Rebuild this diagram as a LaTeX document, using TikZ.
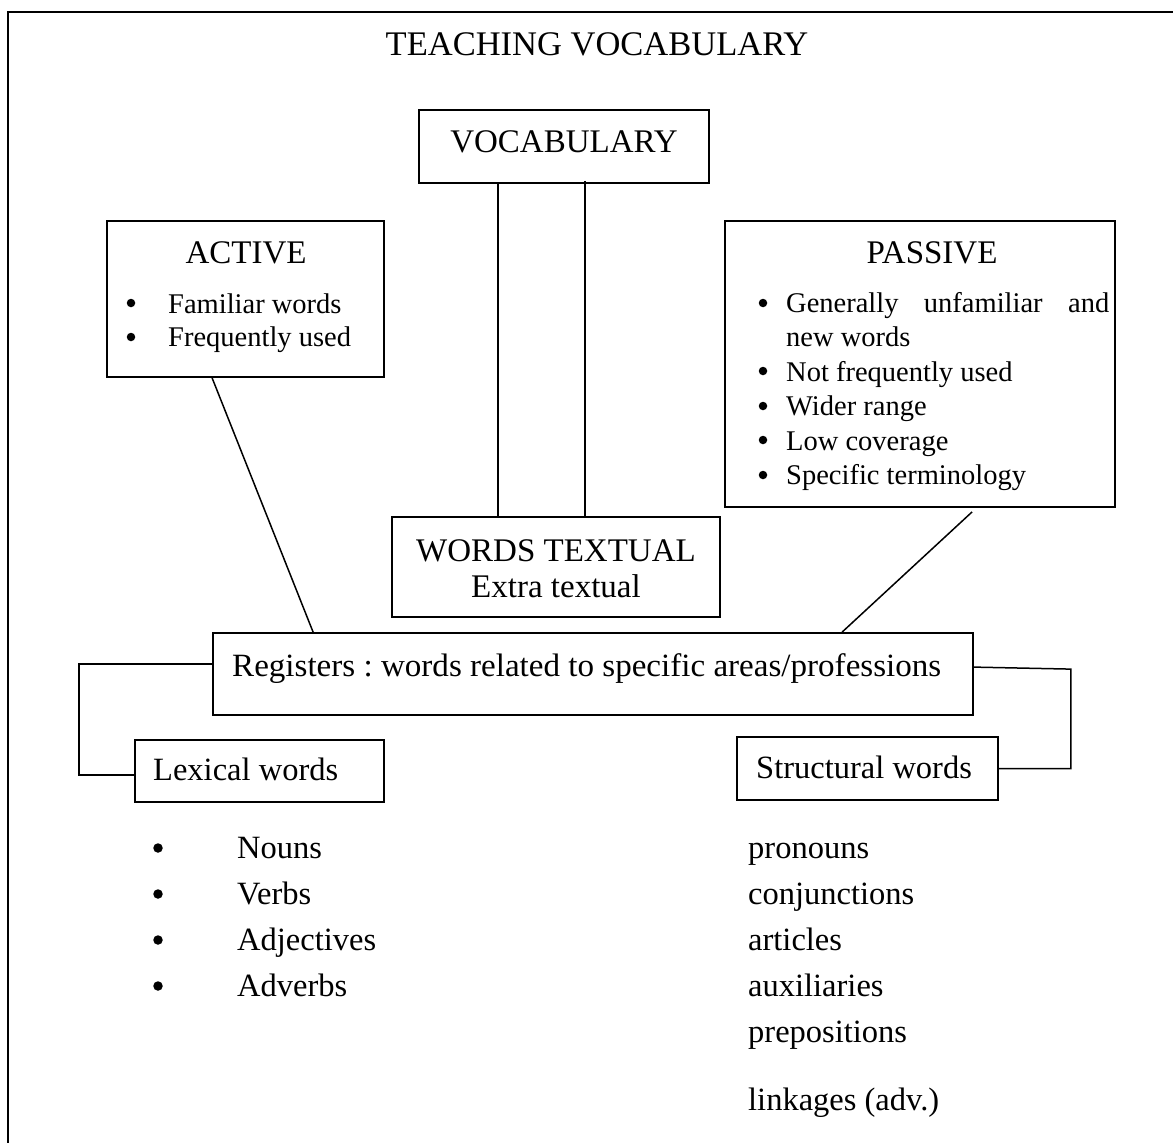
\documentclass[tikz,border=0pt]{standalone}
\usepackage{fontspec}
\setmainfont{Liberation Serif}
\usetikzlibrary{calc}
\tikzset{
  box/.style={draw, line width=1.8pt, rectangle, inner sep=0pt},
  conn/.style={draw, line width=1.5pt},
  head/.style={inner sep=0pt, font=\fontsize{33}{40}\selectfont},
  itemtxt/.style={inner sep=0pt, anchor=base west, font=\fontsize{28.5}{34}\selectfont},
  listtxt/.style={inner sep=0pt, anchor=base west, font=\fontsize{32.5}{38}\selectfont},
  bul/.style={circle, fill=black, inner sep=0pt, minimum size=#1},
  bul/.default=8.5pt
}
\begin{document}
\frenchspacing
\begin{tikzpicture}[x=1pt,y=-1pt]
\useasboundingbox (0,0) rectangle (1173,1143);
% outer frame (left and top sides)
\draw[line width=2.2pt] (8,1150) -- (8,12) -- (1180,12);

% title
\node[head, anchor=base, font=\fontsize{34.5}{40}\selectfont] (title) at (597,55) {TEACHING VOCABULARY};

% boxes
\node[box, minimum width=290pt, minimum height=73pt] (vocab) at (564,146.5) {};
\node[box, minimum width=277pt, minimum height=156pt] (active) at (245.5,299) {};
\node[box, minimum width=390pt, minimum height=286pt] (passive) at (920,364) {};
\node[box, minimum width=328pt, minimum height=100pt] (words) at (556,567) {};
\node[box, minimum width=760pt, minimum height=82pt] (reg) at (593,674) {};
\node[box, minimum width=249pt, minimum height=62pt] (lex) at (259.5,771) {};
\node[box, minimum width=261pt, minimum height=63pt] (struct) at (867.5,768.5) {};

% box texts
\node[head, anchor=base] (vocabt) at (564,152) {VOCABULARY};
\node[head, anchor=base] (activet) at (246,263) {ACTIVE};
\node[bul] (ab1) at (131,303) {};
\node[itemtxt] (a1) at (168,313) {Familiar words};
\node[bul] (ab2) at (131,337) {};
\node[itemtxt] (a2) at (168,346) {Frequently used};

\node[head, anchor=base] (passivet) at (932,263) {PASSIVE};
\node[bul] (pb1) at (763,303) {};
\node[itemtxt] (p1) at (786,312) {\makebox[323pt][s]{Generally\hfill unfamiliar\hfill and}};
\node[itemtxt] (p1b) at (786,346) {new words};
\node[bul] (pb2) at (763,371) {};
\node[itemtxt] (p2) at (786,381) {Not frequently used};
\node[bul] (pb3) at (763,406) {};
\node[itemtxt] (p3) at (786,415) {Wider range};
\node[bul] (pb4) at (763,440) {};
\node[itemtxt] (p4) at (786,450) {Low coverage};
\node[bul] (pb5) at (763,475) {};
\node[itemtxt] (p5) at (786,484) {Specific terminology};

\node[head, anchor=base] (wordst1) at (556,561) {WORDS TEXTUAL};
\node[head, anchor=base] (wordst2) at (556,597) {Extra textual};

\node[listtxt] (regt) at (232,676) {\resizebox{709pt}{\height}{Registers : words related to specific areas/professions}};
\node[listtxt] (lext) at (153,780) {Lexical words};
\node[listtxt] (structt) at (756,778) {Structural words};

% lexical list
\node[bul=9.5pt] (lb1) at (158,848) {};
\node[listtxt] (l1) at (237,858) {Nouns};
\node[bul=9.5pt] (lb2) at (158,894) {};
\node[listtxt] (l2) at (237,904) {Verbs};
\node[bul=9.5pt] (lb3) at (158,940) {};
\node[listtxt] (l3) at (237,950) {Adjectives};
\node[bul=9.5pt] (lb4) at (158,986) {};
\node[listtxt] (l4) at (237,996) {Adverbs};

% structural list
\node[listtxt] (s1) at (748,858) {pronouns};
\node[listtxt] (s2) at (748,904) {conjunctions};
\node[listtxt] (s3) at (748,950) {articles};
\node[listtxt] (s4) at (748,996) {auxiliaries};
\node[listtxt] (s5) at (748,1042) {prepositions};
\node[listtxt] (s6) at (748,1110) {linkages (adv.)};

% connectors
\coordinate (v1) at ($(vocab.south west)+(80,0)$);
\coordinate (v2) at ($(vocab.south west)+(167,-3)$);
\draw[conn] (v1) -- (v1 |- words.north);
\draw[conn] (v2) -- (v2 |- words.north);
\draw[conn] ($(active.south west)+(106,0)$) -- ($(reg.north west)+(101,0)$);
\draw[conn] ($(passive.south west)+(248,4)$) -- ($(reg.north west)+(630,0)$);
\draw[conn] ($(reg.north west)+(0,32)$) -- ++(-133,0) |- ($(lex.west)+(0,4)$);
\draw[conn] ($(reg.north east)+(0,35)$) -- ++(97,2) |- (struct.east);
\end{tikzpicture}
\end{document}
